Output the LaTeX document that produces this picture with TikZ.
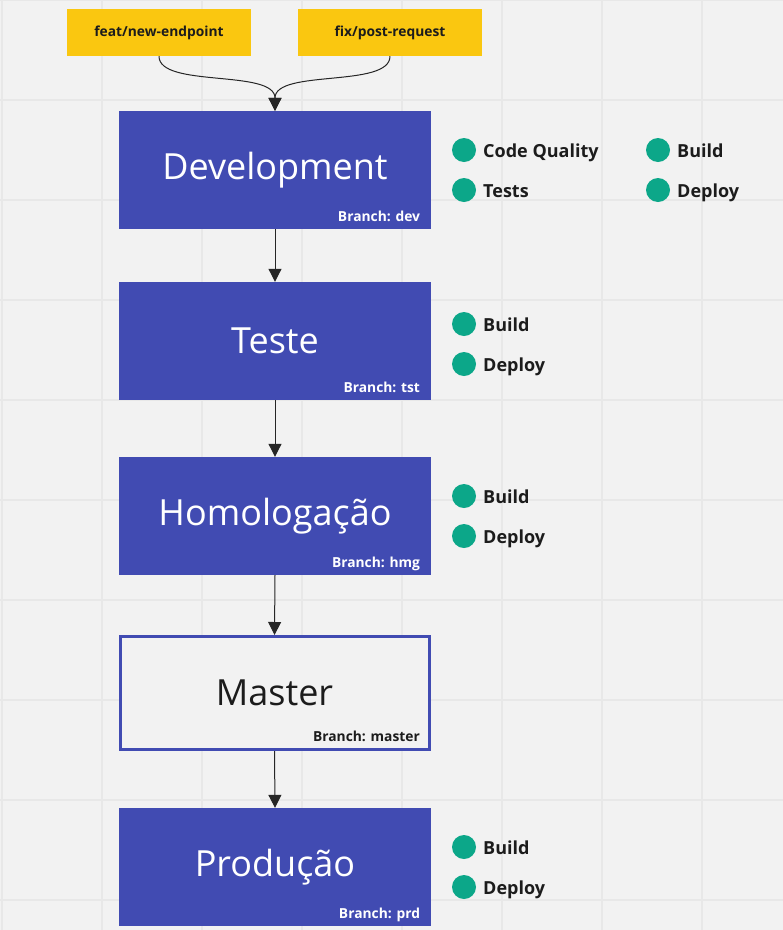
\documentclass[tikz,border=0pt]{standalone}
\usepackage{fontspec}
\setmainfont{Open Sans}
\usetikzlibrary{arrows.meta}

\definecolor{canvas}{HTML}{F2F2F2}
\definecolor{gridgray}{HTML}{E8E8E8}
\definecolor{stickyyellow}{HTML}{FAC710}
\definecolor{stageblue}{HTML}{414BB2}
\definecolor{okgreen}{HTML}{0CA789}
\definecolor{inkdark}{HTML}{1C1C1C}

\tikzset{
  branch/.style={fill=stickyyellow, minimum width=184pt, minimum height=47pt, inner sep=0pt,
    text=inkdark, font=\bfseries\fontsize{13.8}{16}\selectfont},
  stage/.style={fill=stageblue, minimum width=312pt, minimum height=118pt, inner sep=0pt,
    text=white, font=\fontsize{36}{40}\selectfont},
  stagetag/.style={anchor=base east, inner sep=0pt, xshift=-11pt, yshift=8pt,
    font=\bfseries\fontsize{13.8}{16}\selectfont},
  check/.style={circle, fill=okgreen, minimum size=24pt, inner sep=0pt},
  checktext/.style={anchor=base west, inner sep=0pt, yshift=-7pt, text=inkdark,
    font=\bfseries\fontsize{18}{21}\selectfont},
  flow/.style={draw=black!85, line width=1pt, -{Triangle[length=13pt,width=13pt]}},
}

\begin{document}
\begin{tikzpicture}[x=1pt,y=-1pt]
\useasboundingbox [fill=canvas] (0,0) rectangle (783,930);
% grid
\foreach \x in {2,102,...,702}
  \draw [gridgray, line width=1.6pt] (\x,0) -- (\x,930);
\foreach \y in {0,100,...,900}
  \draw [gridgray, line width=1.6pt] (0,\y) -- (783,\y);

% feature branches
\node [branch] (feat) at (159,32.5) {feat/new-endpoint};
\node [branch] (fix) at (390,32.5) {fix/post-request};

% environments
\node [stage] (dev) at (275,170) {Development};
\node [stagetag, text=white] (devtag) at (dev.south east) {Branch: dev};
\node [stage] (tst) at (275,341) {Teste};
\node [stagetag, text=white] (tsttag) at (tst.south east) {Branch: tst};
\node [stage] (hmg) at (275,516) {Homologação};
\node [stagetag, text=white] (hmgtag) at (hmg.south east) {Branch: hmg};
\node [stage, fill=canvas, draw=stageblue, line width=3pt, minimum width=309pt, minimum height=113pt,
  text=inkdark] (master) at (274.5,693) {Master};
\node [stagetag, text=inkdark, xshift=0.5pt, yshift=2pt] (mastertag) at (master.south east) {Branch: master};
\node [stage] (prd) at (275,867) {Produção};
\node [stagetag, text=white] (prdtag) at (prd.south east) {Branch: prd};

% pipeline steps
\node [check] (devq) at (464,150) {};
\node [checktext] (devqt) at (483,150) {Code Quality};
\node [check] (devt) at (464,190) {};
\node [checktext] (devtt) at (483,190) {Tests};
\node [check] (devb) at (658,150) {};
\node [checktext] (devbt) at (677,150) {Build};
\node [check] (devd) at (658,190) {};
\node [checktext] (devdt) at (677,190) {Deploy};

\node [check] (tstb) at (464,324) {};
\node [checktext] (tstbt) at (483,324) {Build};
\node [check] (tstd) at (464,364) {};
\node [checktext] (tstdt) at (483,364) {Deploy};

\node [check] (hmgb) at (464,496) {};
\node [checktext] (hmgbt) at (483,496) {Build};
\node [check] (hmgd) at (464,536) {};
\node [checktext] (hmgdt) at (483,536) {Deploy};

\node [check] (prdb) at (464,847) {};
\node [checktext] (prdbt) at (483,847) {Build};
\node [check] (prdd) at (464,887) {};
\node [checktext] (prddt) at (483,887) {Deploy};

% merges
\draw [flow] (feat.south) .. controls +(0,32) and +(0,-42) .. (dev.north);
\draw [flow] (fix.south) .. controls +(0,32) and +(0,-42) .. (dev.north);
\draw [flow] (dev.south) -- (tst.north);
\draw [flow] (tst.south) -- (hmg.north);
\draw [flow] (hmg.south) -- (master.north);
\draw [flow] (master.south) -- (prd.north);
\end{tikzpicture}
\end{document}
